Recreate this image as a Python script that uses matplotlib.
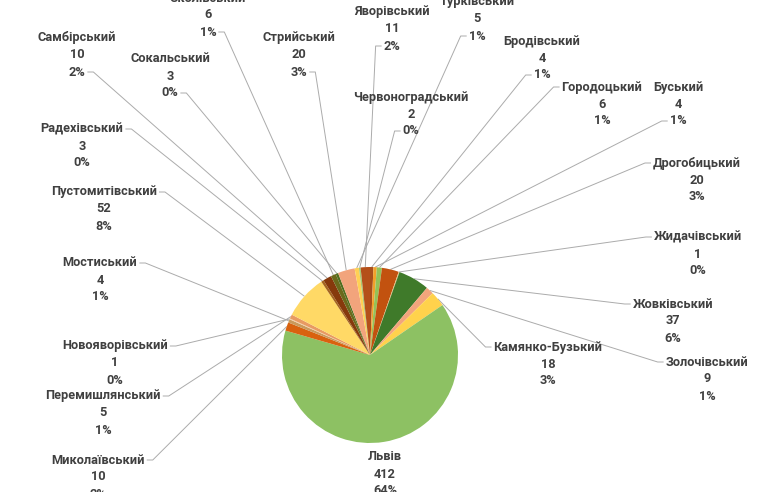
"""
Districts pie with outside labels and leader lines
"""

import numpy as np
import matplotlib.pyplot as plt

districts = ["Бродівський", "Буський", "Городоцький", "Дрогобицький", "Жидачівський",
             "Жовківський", "Золочівський", "Камянко-Бузький", "Львів", "Миколаївський",
             "Мостиський", "Новояворівський", "Перемишлянський", "Пустомитівський",
             "Радехівський", "Самбірський", "Сколівський", "Сокальський", "Стрийський",
             "Турківський", "Червоноградський", "Яворівський"]
counts = [4, 4, 6, 20, 1, 37, 9, 18, 412, 10, 4, 1, 5, 52, 3, 10, 6, 3, 20, 5, 2, 11]

colors = ["#a84f1c", "#f2a12a", "#93c257", "#c2520f", "#e9c277", "#3f7a2a",
          "#f2a57c", "#ffd24c", "#8dc163", "#d9620f", "#c99a5c", "#f6cfa2",
          "#e89a62", "#ffd966", "#a5651e", "#86390c", "#6a6a1c", "#4f6e1f",
          "#f2a47c", "#ffd054", "#a8c870", "#b4501a"]

# label block centres in pixel coords (x, y of first line), y measured from top
label_xy = [(542, 41), (678, 87), (602, 87), (697, 163), (698, 237), (673, 304),
            (707, 362), (548, 347), (385, 457), (98, 460), (100, 263), (115, 346),
            (103, 396), (104, 192), (82, 129), (77, 38), (208, -2), (170, 59),
            (299, 38), (477, 2), (411, 97), (392, 12)]
# which line the leader attaches to: name / pct / none
anchor = ["p", "p", "n", "n", "n", "n", "n", "n", None, "n", "n", "n", "n", "n",
          "n", "p", "p", "p", "p", "p", "p", "p"]

W, H = 757, 492
cx, cy, r = 370, 355, 88
total = sum(counts)

fig = plt.figure(figsize=(W / 100, H / 100), dpi=100)
ax = fig.add_axes([0, 0, 1, 1])

wedges, _ = ax.pie(counts, colors=colors, startangle=90, counterclock=False,
                   center=(cx, H - cy), radius=r, frame=True,
                   wedgeprops=dict(linewidth=0))
ax.set_xlim(0, W)
ax.set_ylim(0, H)
ax.set_aspect("equal")
ax.axis("off")

txtcolor = "#404040"
font = dict(family=["Roboto", "DejaVu Sans"], weight="bold", size=9.2,
            color=txtcolor, ha="center", va="center")

texts = []
for i in range(len(districts)):
    x, y = label_xy[i]
    pct = "%d%%" % round(100.0 * counts[i] / total)
    t_name = ax.text(x, H - y, districts[i], **font)
    ax.text(x, H - y - 17, str(counts[i]), **font)
    t_pct = ax.text(x, H - y - 34, pct, **font)
    texts.append((t_name, t_pct))

fig.canvas.draw()
renderer = fig.canvas.get_renderer()
inv = ax.transData.inverted()

for i, w in enumerate(wedges):
    if anchor[i] is None:
        continue
    t = texts[i][0] if anchor[i] == "n" else texts[i][1]
    bb = t.get_window_extent(renderer)
    (x0, y0), (x1, y1) = inv.transform([[bb.x0, bb.y0], [bb.x1, bb.y1]])
    ym = (y0 + y1) / 2
    mid = np.deg2rad((w.theta1 + w.theta2) / 2)
    px = cx + r * np.cos(mid)
    py = H - cy + r * np.sin(mid)
    lx, ly = label_xy[i]
    if lx < cx:
        ax0 = x1 + 2
        stub = ax0 + 6
    else:
        ax0 = x0 - 2
        stub = ax0 - 6
    ax.plot([ax0, stub, px], [ym, ym, py], color="#ababab", lw=0.7,
            solid_capstyle="butt", zorder=0)

plt.savefig("out.png", dpi=100)
